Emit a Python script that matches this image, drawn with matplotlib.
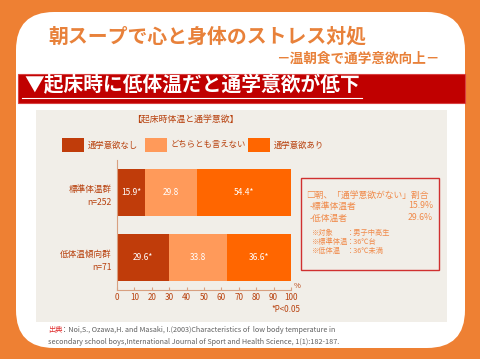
import matplotlib
matplotlib.use('Agg')
import matplotlib.pyplot as plt
from matplotlib.patches import FancyBboxPatch, Rectangle

plt.rcParams['font.family'] = ['Noto Sans CJK JP', 'DejaVu Sans']

# データ
groups = ['標準体温群\nn=252', '低体温傾向群\nn=71']
series_names = ['通学意欲なし', 'どちらとも言えない', '通学意欲あり']
no_motivation = [15.9, 29.6]
neutral = [29.8, 33.8]
motivated = [54.4, 36.6]
significant = [[True, False, True], [True, False, True]]
ticks = [0, 10, 20, 30, 40, 50, 60, 70, 80, 90, 100]

colors = ['#C03C0A', '#FF9A5A', '#FF6600']
orange = '#EE8033'
label_col = '#B8420F'

fig = plt.figure(figsize=(4.8, 3.59), dpi=100)
fig.patch.set_facecolor(orange)

# 背景用の座標系(ピクセル)
bg = fig.add_axes([0, 0, 1, 1])
bg.set_xlim(0, 480)
bg.set_ylim(359, 0)
bg.axis('off')

bg.add_patch(FancyBboxPatch((16, 12), 449, 336, boxstyle='round,pad=0,rounding_size=38',
                            fc='white', ec='none'))
bg.add_patch(Rectangle((36, 110), 411, 212, fc='#F1EEE8', ec='none'))
bg.add_patch(Rectangle((18, 74), 447, 29, fc='#C00000', ec='#D84040', lw=0.8))

bg.text(48, 36, '朝スープで心と身体のストレス対処', fontsize=14.3, fontweight='bold',
        color='#E8813A', va='center')
bg.text(440, 59, '－温朝食で通学意欲向上－', fontsize=9.8, fontweight='bold',
        color='#E8813A', va='center', ha='right')
bg.text(24, 85, '▼起床時に低体温だと通学意欲が低下', fontsize=14.2, fontweight='bold',
        color='white', va='center')
bg.plot([22, 362], [97.5, 97.5], color='white', lw=0.8)

bg.text(185, 120, '【起床時体温と通学意欲】', fontsize=6.4, color=label_col,
        va='center', ha='center')

# 凡例
leg_x = [62, 145, 248]
for x, c, name in zip(leg_x, colors, series_names):
    bg.add_patch(Rectangle((x, 138), 22, 14, fc=c, ec='none'))
    bg.text(x + 26, 145, name, fontsize=6, color=label_col, va='center')

# 右の囲み
bg.add_patch(Rectangle((301, 178), 138, 92, fc='none', ec='#D03030', lw=1.0))
box_col = '#F08A4A'
bg.text(306, 195, '□朝、「通学意欲がない」割合', fontsize=6.3, color=box_col, va='center')
bg.text(310, 206, '-標準体温者', fontsize=6.3, color=box_col, va='center')
bg.text(433, 206, '15.9%', fontsize=6.3, color=box_col, va='center', ha='right')
bg.text(310, 218, '-低体温者', fontsize=6.3, color=box_col, va='center')
bg.text(433, 218, '29.6%', fontsize=6.3, color=box_col, va='center', ha='right')
bg.text(312, 233, '※対象', fontsize=5.2, color=box_col, va='center')
bg.text(312, 242, '※標準体温', fontsize=5.2, color=box_col, va='center')
bg.text(312, 251, '※低体温', fontsize=5.2, color=box_col, va='center')
bg.text(347, 233, '：男子中高生', fontsize=5.2, color=box_col, va='center')
bg.text(347, 242, '：36℃台', fontsize=5.2, color=box_col, va='center')
bg.text(347, 251, '：36℃未満', fontsize=5.2, color=box_col, va='center')

# 出典
bg.text(48, 330, '出典', fontsize=5.2, color='#E03030', va='center')
bg.text(61, 330, '：Noi,S., Ozawa,H. and Masaki, I.(2003)Characteristics of  low body temperature in',
        fontsize=5.2, color='#606060', va='center')
bg.text(48, 342, 'secondary school boys,International Journal of Sport and Health Science, 1(1):182-187.',
        fontsize=5.2, color='#606060', va='center')

# 棒グラフ
ax = fig.add_axes([117 / 480, (359 - 290) / 359, 174 / 480, 130 / 359])
ax.patch.set_alpha(0)
ypos = [0.5, 1.5]
left = [0, 0]
for k, vals in enumerate([no_motivation, neutral, motivated]):
    bars = ax.barh(ypos, vals, left=left, height=0.72, color=colors[k])
    for i, b in enumerate(bars):
        txt = f'{vals[i]:.1f}' + ('*' if significant[i][k] else '')
        ax.text(b.get_x() + b.get_width() / 2, b.get_y() + b.get_height() / 2, txt,
                color='white', fontsize=6, ha='center', va='center')
    left = [l + v for l, v in zip(left, vals)]

ax.set_xlim(0, 100)
ax.set_ylim(2, 0)
ax.set_xticks(ticks)
ax.tick_params(axis='x', direction='in', length=2.5, color='#D8A080', labelsize=5.8,
               labelcolor=label_col, pad=2)
ax.set_yticks(ypos)
ax.set_yticklabels(groups, fontsize=6.2, color=label_col, ha='right', linespacing=1.6)
ax.tick_params(axis='y', length=0, pad=4)
for s in ['top', 'right']:
    ax.spines[s].set_visible(False)
for s in ['left', 'bottom']:
    ax.spines[s].set_color('#D8A080')
    ax.spines[s].set_linewidth(0.8)

bg.text(297, 286, '%', fontsize=5.5, color=label_col, va='center', ha='center')
bg.text(300, 309, '*P<0.05', fontsize=5.8, color=label_col, va='center', ha='right')

fig.savefig('out.png', dpi=100, facecolor=fig.get_facecolor())
